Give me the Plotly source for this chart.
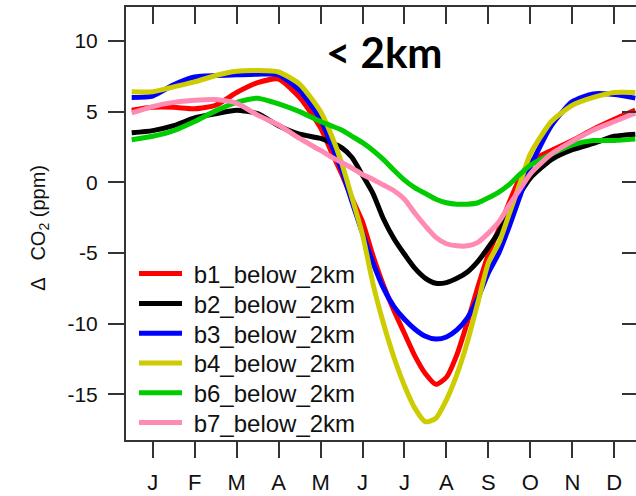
import plotly.graph_objects as go

# Month positions (1 = January), denser sampling through the summer drawdown
months = [0.5, 1, 1.5, 2, 2.5, 3, 3.5, 4, 4.5, 5, 5.25, 5.5, 5.75, 6, 6.25, 6.5, 6.75,
          7, 7.25, 7.5, 7.75, 8, 8.25, 8.5, 8.75, 9, 9.25, 9.5, 9.75, 10, 10.5, 11,
          11.5, 12, 12.5]
month_ticks = [1, 2, 3, 4, 5, 6, 7, 8, 9, 10, 11, 12]
month_labels = ["J", "F", "M", "A", "M", "J", "J", "A", "S", "O", "N", "D"]
y_ticks = [10, 5, 0, -5, -10, -15]
y_labels = ["10", "5", "0", "-5", "-10", "-15"]

b1_below_2km = [5.1, 5.3, 5.3, 5.2, 5.45, 6.35, 7.05, 7.3, 6.0, 3.85, 2.2, 0.6, -1.15,
                -2.8, -5.2, -7.3, -9.1, -10.7, -12.3, -13.55, -14.3, -13.8, -12.2, -9.9,
                -7.4, -5.1, -3.3, -1.4, 0.3, 1.45, 2.25, 2.95, 3.75, 4.45, 5.1]
b2_below_2km = [3.5, 3.65, 4.0, 4.55, 4.85, 5.1, 4.85, 4.0, 3.4, 3.1, 2.8, 2.45, 1.75,
                0.5, -0.8, -2.6, -4.0, -5.1, -6.1, -6.8, -7.15, -7.1, -6.8, -6.35, -5.6,
                -4.6, -3.5, -2.1, -0.8, 0.3, 1.6, 2.3, 2.75, 3.25, 3.4]
b3_below_2km = [6.0, 6.1, 6.9, 7.45, 7.55, 7.6, 7.65, 7.6, 6.5, 4.45, 2.7, 0.9, -1.4,
                -3.6, -5.7, -7.5, -8.8, -9.7, -10.4, -10.9, -11.1, -10.95, -10.45, -9.6,
                -8.2, -6.4, -5.0, -3.1, -1.0, 1.1, 4.0, 5.7, 6.25, 6.2, 5.95]
b4_below_2km = [6.4, 6.4, 6.75, 7.1, 7.55, 7.85, 7.9, 7.8, 6.95, 5.0, 3.4, 1.4, -1.1,
                -3.7, -7.2, -10.0, -12.4, -14.4, -16.0, -16.95, -16.7, -15.4, -13.6, -11.3,
                -8.5, -5.7, -4.3, -2.2, -0.1, 2.0, 4.3, 5.45, 6.0, 6.35, 6.35]
b6_below_2km = [3.0, 3.25, 3.65, 4.3, 5.05, 5.65, 5.95, 5.55, 5.0, 4.3, 4.0, 3.7, 3.25,
                2.8, 2.25, 1.6, 0.85, 0.15, -0.4, -0.8, -1.2, -1.45, -1.55, -1.55, -1.45,
                -1.1, -0.7, -0.15, 0.55, 1.2, 2.0, 2.65, 2.95, 2.95, 3.05]
b7_below_2km = [4.9, 5.35, 5.65, 5.8, 5.85, 5.6, 4.75, 4.05, 3.1, 2.25, 1.8, 1.4, 1.0,
                0.55, 0.2, -0.2, -0.6, -1.2, -2.2, -3.1, -3.9, -4.35, -4.5, -4.5, -4.25,
                -3.6, -2.8, -1.6, -0.5, 0.6, 2.0, 2.9, 3.7, 4.3, 4.9]

series = [
    ("b1_below_2km", b1_below_2km, "#FF0000"),
    ("b2_below_2km", b2_below_2km, "#000000"),
    ("b3_below_2km", b3_below_2km, "#0000FF"),
    ("b4_below_2km", b4_below_2km, "#CCCC00"),
    ("b6_below_2km", b6_below_2km, "#00CC00"),
    ("b7_below_2km", b7_below_2km, "#FF8AB4"),
]

FONT = "Liberation Sans, Arial, sans-serif"
AXIS_COLOR = "#333333"
X_RANGE = [0.364, 12.517]
Y_RANGE = [-18.24, 12.40]

# plot area in pixels: used to place the legend rows
PLOT_LEFT, PLOT_WIDTH = 126, 510
PLOT_BOTTOM, PLOT_HEIGHT = 440, 433
LEGEND_TOP_ROW, LEGEND_ROW_STEP = 274, 29.8

fig = go.Figure()
legend_layouts = {}
for i, (name, vals, color) in enumerate(series):
    legend_id = "legend" if i == 0 else f"legend{i + 1}"
    fig.add_trace(go.Scatter(
        x=months, y=vals, name="\u00a0" + name, mode="lines",
        line=dict(color=color, width=5, shape="spline", smoothing=0.6),
        legend=legend_id,
    ))
    row_y = LEGEND_TOP_ROW + i * LEGEND_ROW_STEP
    legend_layouts[legend_id] = dict(
        x=(140 - 6 - PLOT_LEFT) / PLOT_WIDTH,
        y=(PLOT_BOTTOM - row_y) / PLOT_HEIGHT,
        xanchor="left", yanchor="middle",
        bgcolor="rgba(0,0,0,0)", font=dict(size=24, family=FONT, color="#111111"),
        itemwidth=43,
    )

# carrier trace for the mirrored top/right tick axes
fig.add_trace(go.Scatter(x=[None], y=[None], xaxis="x2", yaxis="y2",
                         showlegend=False, hoverinfo="skip"))

fig.update_layout(
    width=636, height=496,
    margin=dict(l=126, r=0, t=7, b=56),
    paper_bgcolor="white", plot_bgcolor="white",
    font=dict(family=FONT, color="#111111"),
    xaxis=dict(
        range=X_RANGE, tickvals=month_ticks, ticktext=month_labels,
        ticks="outside", ticklen=16, tickwidth=2, tickcolor=AXIS_COLOR,
        showline=True, linewidth=2, linecolor=AXIS_COLOR,
        showgrid=False, zeroline=False, tickfont=dict(size=22),
        ticklabelstandoff=6,
    ),
    yaxis=dict(
        range=Y_RANGE, tickvals=y_ticks, ticktext=y_labels,
        ticks="outside", ticklen=16, tickwidth=2, tickcolor=AXIS_COLOR,
        showline=True, linewidth=2, linecolor=AXIS_COLOR,
        showgrid=False, zeroline=False, tickfont=dict(size=21),
        ticklabelstandoff=6,
    ),
    xaxis2=dict(
        range=X_RANGE, tickvals=month_ticks, overlaying="x", side="top",
        anchor="y2", ticks="inside", ticklen=17, tickwidth=2, tickcolor=AXIS_COLOR,
        showline=True, linewidth=2, linecolor=AXIS_COLOR,
        showticklabels=False, showgrid=False, zeroline=False,
    ),
    yaxis2=dict(
        range=Y_RANGE, tickvals=y_ticks, overlaying="y", side="right",
        anchor="x2", ticks="inside", ticklen=14, tickwidth=2, tickcolor=AXIS_COLOR,
        showline=False, showticklabels=False, showgrid=False, zeroline=False,
    ),
    showlegend=True,
    **legend_layouts,
)

fig.add_annotation(
    text="< 2km", xref="paper", yref="paper", x=0.506, y=0.897,
    showarrow=False,
    font=dict(family="Lato, sans-serif", size=42, color="black", weight="bold"),
    xanchor="center", yanchor="middle",
)
fig.add_annotation(
    text="Δ\u00a0\u00a0\u00a0CO<sub>2</sub> (ppm)", xref="paper", yref="paper",
    x=-0.169, y=0.49,
    showarrow=False, textangle=-90, font=dict(family=FONT, size=20, color="#111111"),
    xanchor="center", yanchor="middle",
)

fig.write_html("out.html")
